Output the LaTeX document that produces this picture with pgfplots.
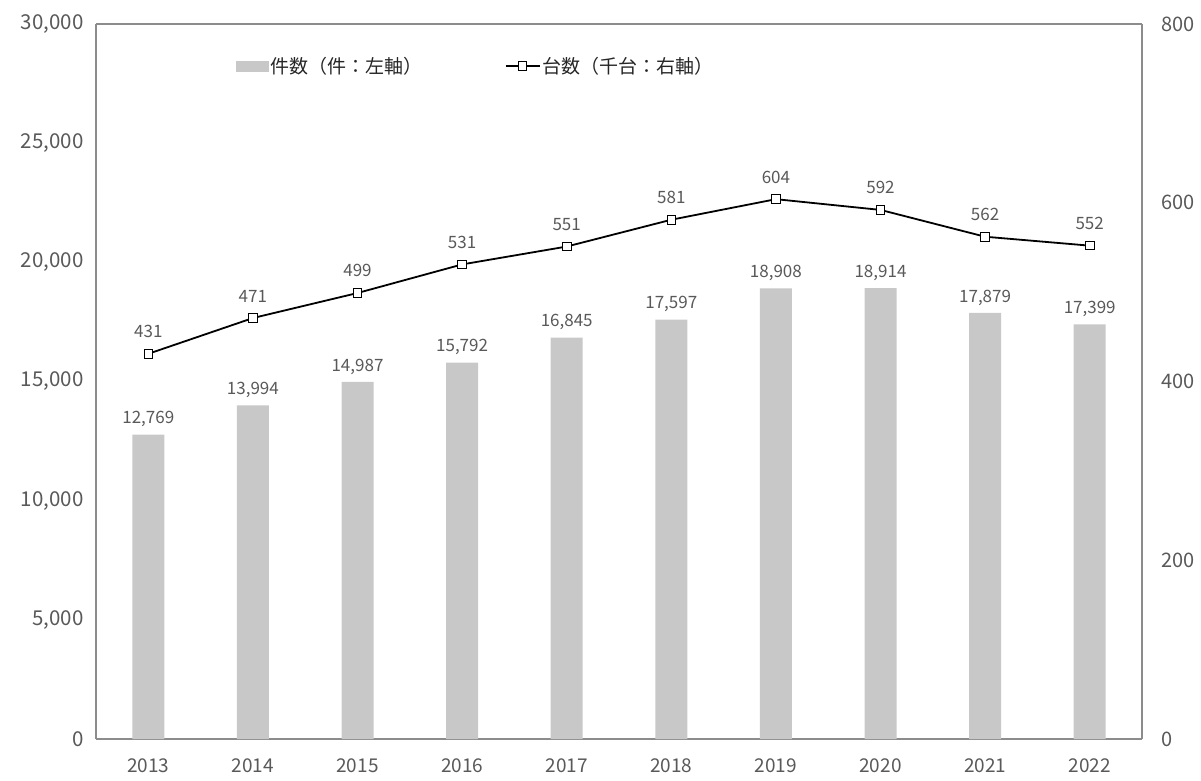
\documentclass[border=0pt]{standalone}
\usepackage{pgfplots}
\pgfplotsset{compat=1.18}
\usepackage{fontspec}
\setmainfont{Noto Sans CJK JP}
\definecolor{barc}{HTML}{C8C8C8}
\definecolor{tickc}{HTML}{595959}
\definecolor{framec}{HTML}{8C8C8C}
\pgfplotsset{
  mylineleg/.style={legend image code/.code={\draw[mark repeat=2,mark phase=2,##1] plot coordinates {(0pt,0pt) (17pt,0pt) (34pt,0pt)};}},
  mybarleg/.style={legend image code/.code={\fill[barc] (0pt,-5pt) rectangle (32pt,5pt);}},
}
\begin{document}
\begin{tikzpicture}
\path[use as bounding box] (-96pt,-41pt) rectangle (1105pt,739pt);
\pgfplotsset{
  base/.style={
    width=1046pt, height=715pt, scale only axis,
    at={(0pt,0pt)}, anchor=south west,
    xmin=-0.5, xmax=9.5,
    xtick={0,...,9},
    xticklabels={2013,2014,2015,2016,2017,2018,2019,2020,2021,2022},
    major tick length=0pt,
    axis line style={framec, line width=1.3pt},
    tick label style={font=\fontsize{19}{22}\selectfont, text=tickc},
    /pgf/number format/assume math mode=true,
    /pgf/number format/.cd, 1000 sep={,}, fixed,
  }
}
\begin{axis}[base,
  ymin=0, ymax=30000, ytick={0,5000,...,30000},
  axis y line*=left, axis x line*=box,
  scaled y ticks=false,
  yticklabel style={xshift=-9pt, font=\fontsize{20.5}{23}\selectfont},
  xticklabel style={yshift=-16pt},
  nodes near coords,
  every node near coord/.append style={font=\fontsize{17}{20}\selectfont, text=tickc, yshift=4pt},
]
\addplot[ybar, bar width=32pt, fill=barc, draw=none] coordinates {
(0,12769) (1,13994) (2,14987) (3,15792) (4,16845) (5,17597) (6,18908) (7,18914) (8,17879) (9,17399)};
\end{axis}
\begin{axis}[base,
  ymin=0, ymax=800, ytick={0,200,...,800},
  axis y line*=right, axis x line=none,
  yticklabel style={xshift=16pt, font=\fontsize{20}{23}\selectfont},
  legend columns=2,
  legend style={draw=none, fill=none, at={(0.134,0.941)}, anchor=west, inner sep=0pt,
    font=\fontsize{19}{22}\selectfont, text=black!85,
    /tikz/every even column/.append style={column sep=80pt}},
  legend cell align=left,
  nodes near coords,
  every node near coord/.append style={font=\fontsize{17}{20}\selectfont, text=tickc, yshift=12pt},
]
\addlegendimage{mybarleg}
\addlegendentry{件数（件：左軸）}
\addplot[black, line width=1.8pt, mark=square*, mark size=4.3pt,
  mark options={fill=white, draw=black, line width=1pt}, mylineleg]
coordinates {
(0,431) (1,471) (2,499) (3,531) (4,551) (5,581) (6,604) (7,592) (8,562) (9,552)};
\addlegendentry{台数（千台：右軸）}
\end{axis}
\end{tikzpicture}
\end{document}
